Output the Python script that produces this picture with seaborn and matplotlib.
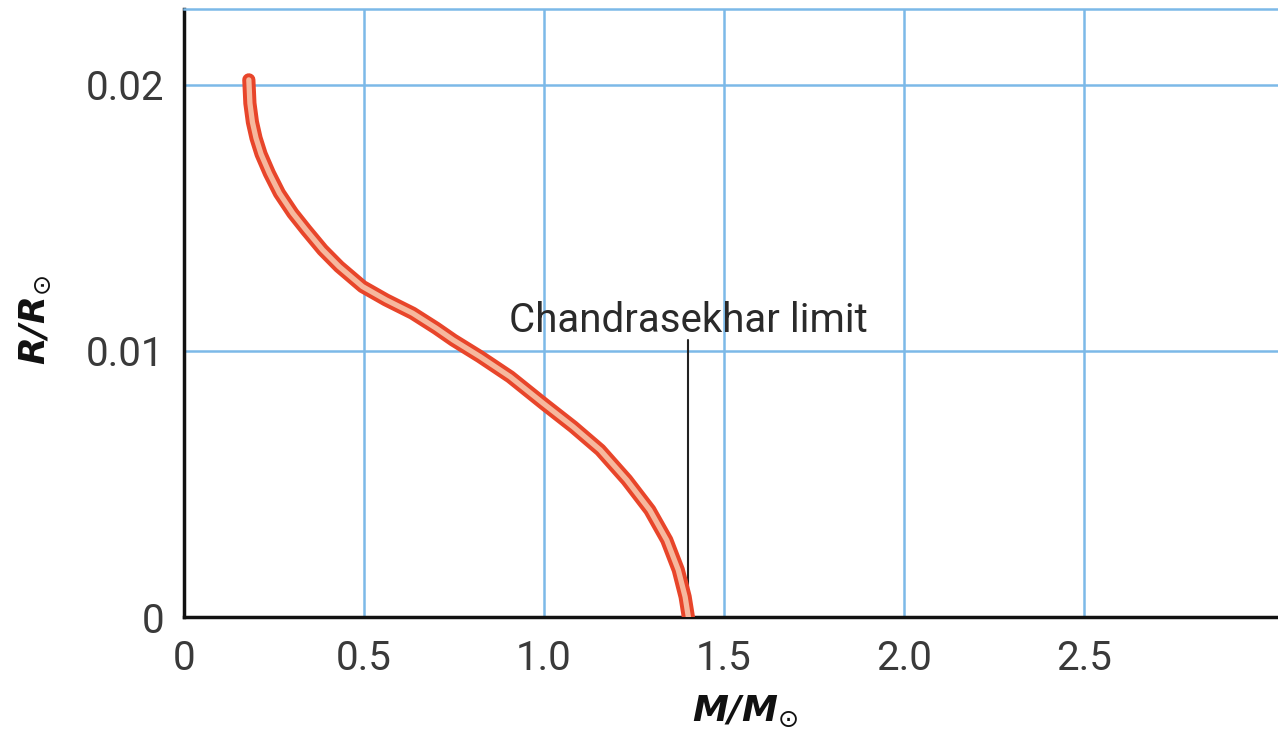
import numpy as np
import pandas as pd
import matplotlib
matplotlib.use("Agg")
import matplotlib.pyplot as plt
import seaborn as sns

# white dwarf mass-radius relation
mass = [0.180, 0.183, 0.190, 0.200, 0.214, 0.237, 0.265, 0.302, 0.339, 0.385,
        0.431, 0.496, 0.561, 0.635, 0.700, 0.748, 0.822, 0.906, 0.998, 1.081,
        1.156, 1.230, 1.294, 1.341, 1.373, 1.392, 1.401]
radius = [0.02019, 0.01931, 0.01860, 0.01800, 0.01740, 0.01668, 0.01593, 0.01518,
          0.01455, 0.01380, 0.01317, 0.01242, 0.01192, 0.01142, 0.01086, 0.01041,
          0.00979, 0.00903, 0.00803, 0.00715, 0.00628, 0.00515, 0.00402, 0.00289,
          0.00177, 0.00076, 0.0]

x_ticks = [0, 0.5, 1.0, 1.5, 2.0, 2.5]
x_labels = ["0", "0.5", "1.0", "1.5", "2.0", "2.5"]
y_ticks = [0, 0.01, 0.02]
y_labels = ["0", "0.01", "0.02"]

limit_mass = 1.4
limit_text = "Chandrasekhar limit"

df = pd.DataFrame({"M": mass, "R": radius})

sns.set_style("white")
plt.rcParams['font.family'] = ['Roboto', 'DejaVu Sans']

fig = plt.figure(figsize=(12.78, 7.35), dpi=100)
ax = fig.add_axes([0.144, 0.1605, 0.856, 0.8275])

grid_col = "#7cb9e8"
for xv in x_ticks[1:]:
    ax.axvline(xv, color=grid_col, lw=1.8, zorder=0)
for yv in y_ticks[1:]:
    ax.axhline(yv, color=grid_col, lw=1.8, zorder=0)

# outlined tube look: thick red line with a pale core
sns.lineplot(data=df, x="M", y="R", sort=False, color="#e8452a", lw=9.5,
             solid_capstyle="round", solid_joinstyle="round", ax=ax, zorder=3)
sns.lineplot(data=df, x="M", y="R", sort=False, color="#f6b89e", lw=3.8,
             solid_capstyle="round", solid_joinstyle="round", ax=ax, zorder=4)

# pointer line for the limit
ax.plot([limit_mass, limit_mass], [0.00102, 0.01041], color="#222222", lw=1.5, zorder=2)
ax.text(limit_mass, 0.0107, limit_text, ha="center", va="baseline",
        fontsize=29, color="#2a2a2a")

ax.set_xlim(0, 3.039)
ax.set_ylim(0, 0.02286)
ax.set_xticks(x_ticks)
ax.set_xticklabels(x_labels)
ax.set_yticks(y_ticks)
ax.set_yticklabels(y_labels)
ax.tick_params(length=0, labelsize=29, colors="#3a3a3a")
ax.tick_params(axis="x", pad=16)
ax.tick_params(axis="y", pad=14)

ax.set_xlabel(r"M/M$_{\odot}$", fontsize=26, fontweight="heavy", style="italic",
              color="#111111", family="DejaVu Sans")
ax.set_ylabel(r"R/R$_{\odot}$", fontsize=26, fontweight="heavy", style="italic",
              color="#111111", family="DejaVu Sans")
ax.xaxis.set_label_coords(0.513, -0.155)
ax.xaxis.label.set_va("center")
ax.yaxis.set_label_coords(-0.136, 0.488)
ax.yaxis.label.set_va("center")

for side in ["left", "bottom"]:
    ax.spines[side].set_color("#111111")
    ax.spines[side].set_linewidth(2.5)
ax.spines["top"].set_color(grid_col)
ax.spines["top"].set_linewidth(1.8)
ax.spines["right"].set_visible(False)

fig.savefig("out.png", dpi=100)
